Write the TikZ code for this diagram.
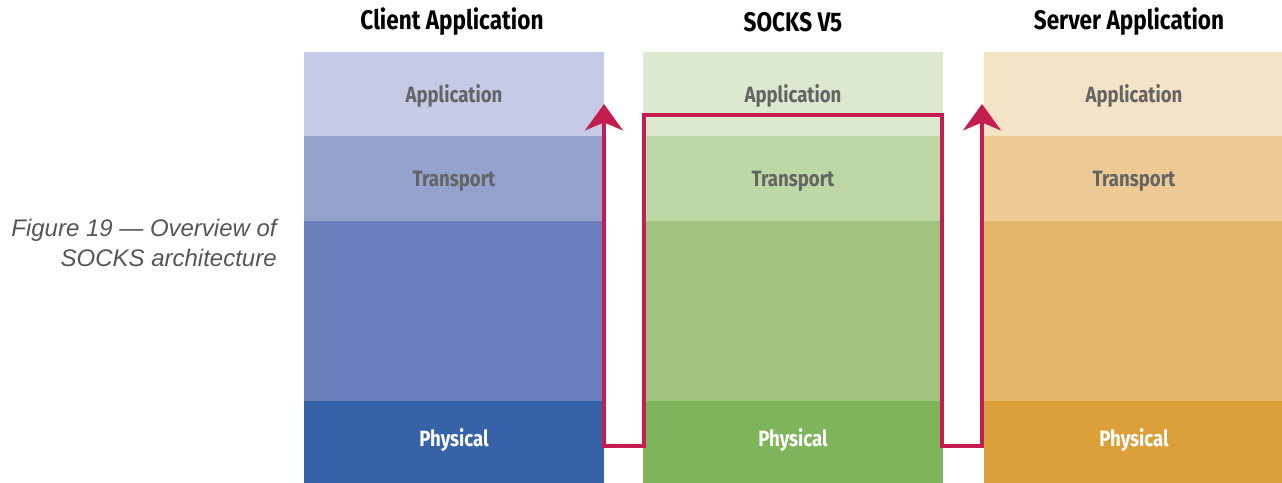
\documentclass[tikz,border=0pt]{standalone}
\usepackage{fontspec}
\usepackage{tikz}
\usetikzlibrary{arrows.meta}
\newfontfamily\layerfont[FakeStretch=0.84]{Fira Sans}
\newfontfamily\capfont{Liberation Sans}
\definecolor{cliapp}{HTML}{C5CAE6}
\definecolor{clitra}{HTML}{95A2CE}
\definecolor{climid}{HTML}{6A7FBC}
\definecolor{cliphy}{HTML}{3663A8}
\definecolor{socapp}{HTML}{DCE8D0}
\definecolor{soctra}{HTML}{BDD7A5}
\definecolor{socmid}{HTML}{A0C480}
\definecolor{socphy}{HTML}{7EB45A}
\definecolor{srvapp}{HTML}{F5E3C6}
\definecolor{srvtra}{HTML}{EDCA94}
\definecolor{srvmid}{HTML}{E4B66C}
\definecolor{srvphy}{HTML}{DBA03A}
\definecolor{redline}{HTML}{C41E50}
\definecolor{labgray}{HTML}{646464}
\definecolor{capgray}{HTML}{555555}
\tikzset{
  title/.style={font=\layerfont\fontsize{15.3}{16}\bfseries\selectfont},
  lab/.style={font=\layerfont\fontsize{12.6}{14}\bfseries\selectfont, text=labgray},
  phy/.style={font=\layerfont\fontsize{12.6}{14}\bfseries\selectfont, text=white},
  path/.style={redline, line width=2.3pt},
}
\begin{document}
\begin{tikzpicture}[x=0.02cm,y=-0.02cm]
			%%%%% START %%%%%
			\def\ra{52}
			\def\rb{136}
			\def\rc{221}
			\def\rd{401}
			\def\re{483}
			\def\xcl{304}
			\def\xcr{604}
			\def\xsl{643}
			\def\xsr{943}
			\def\xvl{984}
			\def\xvr{1282}
			\def\yl{446}
			\def\ytop{115}
			\def\ytip{104}

			\useasboundingbox (0,0) rectangle (1282,483);

			\fill[cliapp] (\xcl,\ra) rectangle (\xcr,\rb);
			\fill[clitra] (\xcl,\rb) rectangle (\xcr,\rc);
			\fill[climid] (\xcl,\rc) rectangle (\xcr,\rd);
			\fill[cliphy] (\xcl,\rd) rectangle (\xcr,\re);

			\fill[socapp] (\xsl,\ra) rectangle (\xsr,\rb);
			\fill[soctra] (\xsl,\rb) rectangle (\xsr,\rc);
			\fill[socmid] (\xsl,\rc) rectangle (\xsr,\rd);
			\fill[socphy] (\xsl,\rd) rectangle (\xsr,\re);

			\fill[srvapp] (\xvl,\ra) rectangle (\xvr,\rb);
			\fill[srvtra] (\xvl,\rb) rectangle (\xvr,\rc);
			\fill[srvmid] (\xvl,\rc) rectangle (\xvr,\rd);
			\fill[srvphy] (\xvl,\rd) rectangle (\xvr,\re);

			\node[title] (clititle) at (452,22) {Client Application};
			\node[title] (soctitle) at (793,22) {SOCKS V5};
			\node[title] (srvtitle) at (1129,22) {Server Application};

			\node[lab] (clia) at (454,96) {Application};
			\node[lab] (clit) at (454,181) {Transport};
			\node[phy] (clip) at (454,440) {Physical};
			\node[lab] (soca) at (793,96) {Application};
			\node[lab] (soct) at (793,181) {Transport};
			\node[phy] (socp) at (793,440) {Physical};
			\node[lab] (srva) at (1134,96) {Application};
			\node[lab] (srvt) at (1134,181) {Transport};
			\node[phy] (srvp) at (1134,440) {Physical};

			\coordinate (cltip) at (\xcr,\ytip);
			\coordinate (svtip) at (982,\ytip);

			\draw[path, {Stealth[length=15pt,width=21.5pt,inset=4.5pt]}-{Stealth[length=15pt,width=21.5pt,inset=4.5pt]}]
			  (cltip) -- (\xcr,\yl) -- (644,\yl) -- (644,\ytop) -- (942,\ytop) -- (942,\yl) -- (982,\yl) -- (svtip);

			\node[font=\capfont\fontsize{13.65}{16.6}\itshape\selectfont, text=capgray, align=right, anchor=east, inner sep=0pt] (cap) at (277,243) {Figure 19 — Overview of\\SOCKS architecture};
			%%%%% END %%%%%
\end{tikzpicture}
\end{document}
